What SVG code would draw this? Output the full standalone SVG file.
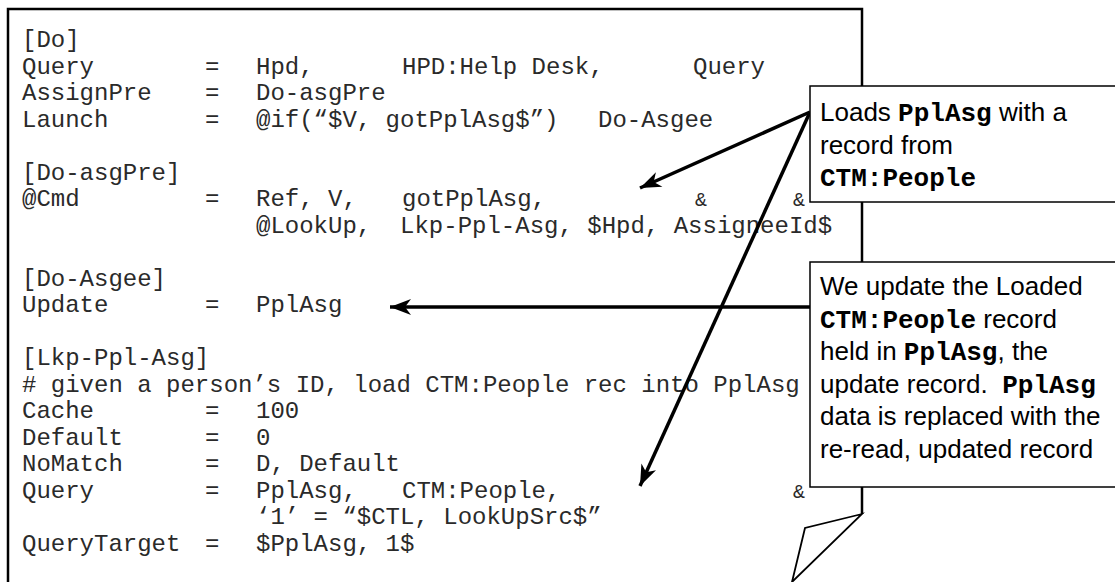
<svg xmlns="http://www.w3.org/2000/svg" width="1115" height="582" viewBox="0 0 1115 582">
<defs>
<style>
.code{font-family:"Liberation Mono","Courier New",monospace;font-size:24px;fill:#2a2a2a}
.amp{font-size:20px}
.sans{font-family:"Liberation Sans",Arial,sans-serif;font-size:26px;fill:#000}
.mb{font-family:"Liberation Mono","Courier New",monospace;font-weight:bold;font-size:26px}
.box{fill:#fff;stroke:#000;stroke-width:1.5}
.arrow{stroke:#000;stroke-width:3.5;fill:none;marker-end:url(#ah)}
</style>
<marker id="ah" viewBox="-22 -10 24 20" refX="0" refY="0" markerWidth="24" markerHeight="20" markerUnits="userSpaceOnUse" orient="auto">
<path d="M0,0 L-21,-8 L-15,0 L-21,8 Z" fill="#000"/>
</marker>
</defs>
<rect width="1115" height="582" fill="#fff"/>
<g id="page">
<path d="M8,590 L8,9 L862,9 L862,514" fill="none" stroke="#000" stroke-width="2.5"/>
<polygon points="862,514 805,528 792,582" fill="#fff" stroke="#000" stroke-width="1.8" stroke-linejoin="miter"/>
</g>
<g id="code" class="code">
<text x="22" y="47">[Do]</text>
<text x="22" y="73.5">Query</text><text x="205" y="73.5">=</text><text x="256" y="73.5">Hpd,</text><text x="402" y="73.5">HPD:Help Desk,</text><text x="693" y="73.5">Query</text>
<text x="22" y="100">AssignPre</text><text x="205" y="100">=</text><text x="256" y="100">Do-asgPre</text>
<text x="22" y="126.5">Launch</text><text x="205" y="126.5">=</text><text x="256" y="126.5">@if(“$V, gotPplAsg$”)</text><text x="598" y="126.5">Do-Asgee</text>
<text x="22" y="179.5">[Do-asgPre]</text>
<text x="22" y="206">@Cmd</text><text x="205" y="206">=</text><text x="256" y="206">Ref, V,</text><text x="402" y="206">gotPplAsg,</text><text class="amp" x="695" y="206">&amp;</text><text class="amp" x="793" y="206">&amp;</text>
<text x="256" y="232.5">@LookUp,&#160; Lkp-Ppl-Asg, $Hpd, AssigneeId$</text>
<text x="22" y="285.5">[Do-Asgee]</text>
<text x="22" y="312">Update</text><text x="205" y="312">=</text><text x="256" y="312">PplAsg</text>
<text x="22" y="365">[Lkp-Ppl-Asg]</text>
<text x="22" y="391.5"># given a person’s ID, load CTM:People rec into PplAsg</text>
<text x="22" y="418">Cache</text><text x="205" y="418">=</text><text x="256" y="418">100</text>
<text x="22" y="444.5">Default</text><text x="205" y="444.5">=</text><text x="256" y="444.5">0</text>
<text x="22" y="471">NoMatch</text><text x="205" y="471">=</text><text x="256" y="471">D, Default</text>
<text x="22" y="497.5">Query</text><text x="205" y="497.5">=</text><text x="256" y="497.5">PplAsg,</text><text x="402" y="497.5">CTM:People,</text><text class="amp" x="793" y="497.5">&amp;</text>
<text x="256" y="524">‘1’ = “$CTL, LookUpSrc$”</text>
<text x="22" y="550.5">QueryTarget</text><text x="205" y="550.5">=</text><text x="256" y="550.5">$PplAsg, 1$</text>
</g>
<g id="connectors">
<line class="arrow" x1="810" y1="112" x2="640" y2="188"/>
<line class="arrow" x1="810" y1="112" x2="640" y2="486"/>
<line class="arrow" x1="810" y1="307" x2="390" y2="307"/>
</g>
<g id="callout1">
<rect class="box" x="810" y="86" width="320" height="116"/>
<text class="sans" x="820" y="121">Loads <tspan class="mb">PplAsg</tspan> with a</text>
<text class="sans" x="820" y="153.5">record from</text>
<text class="sans" x="820" y="186"><tspan class="mb">CTM:People</tspan></text>
</g>
<g id="callout2">
<rect class="box" x="810" y="262" width="320" height="225"/>
<text class="sans" x="820" y="295">We update the Loaded</text>
<text class="sans" x="820" y="327.5"><tspan class="mb">CTM:People</tspan> record</text>
<text class="sans" x="820" y="360">held in <tspan class="mb">PplAsg</tspan>, the</text>
<text class="sans" x="820" y="392.5">update record.&#160; <tspan class="mb">PplAsg</tspan></text>
<text class="sans" x="820" y="425">data is replaced with the</text>
<text class="sans" x="820" y="457.5">re-read, updated record</text>
</g>
</svg>
